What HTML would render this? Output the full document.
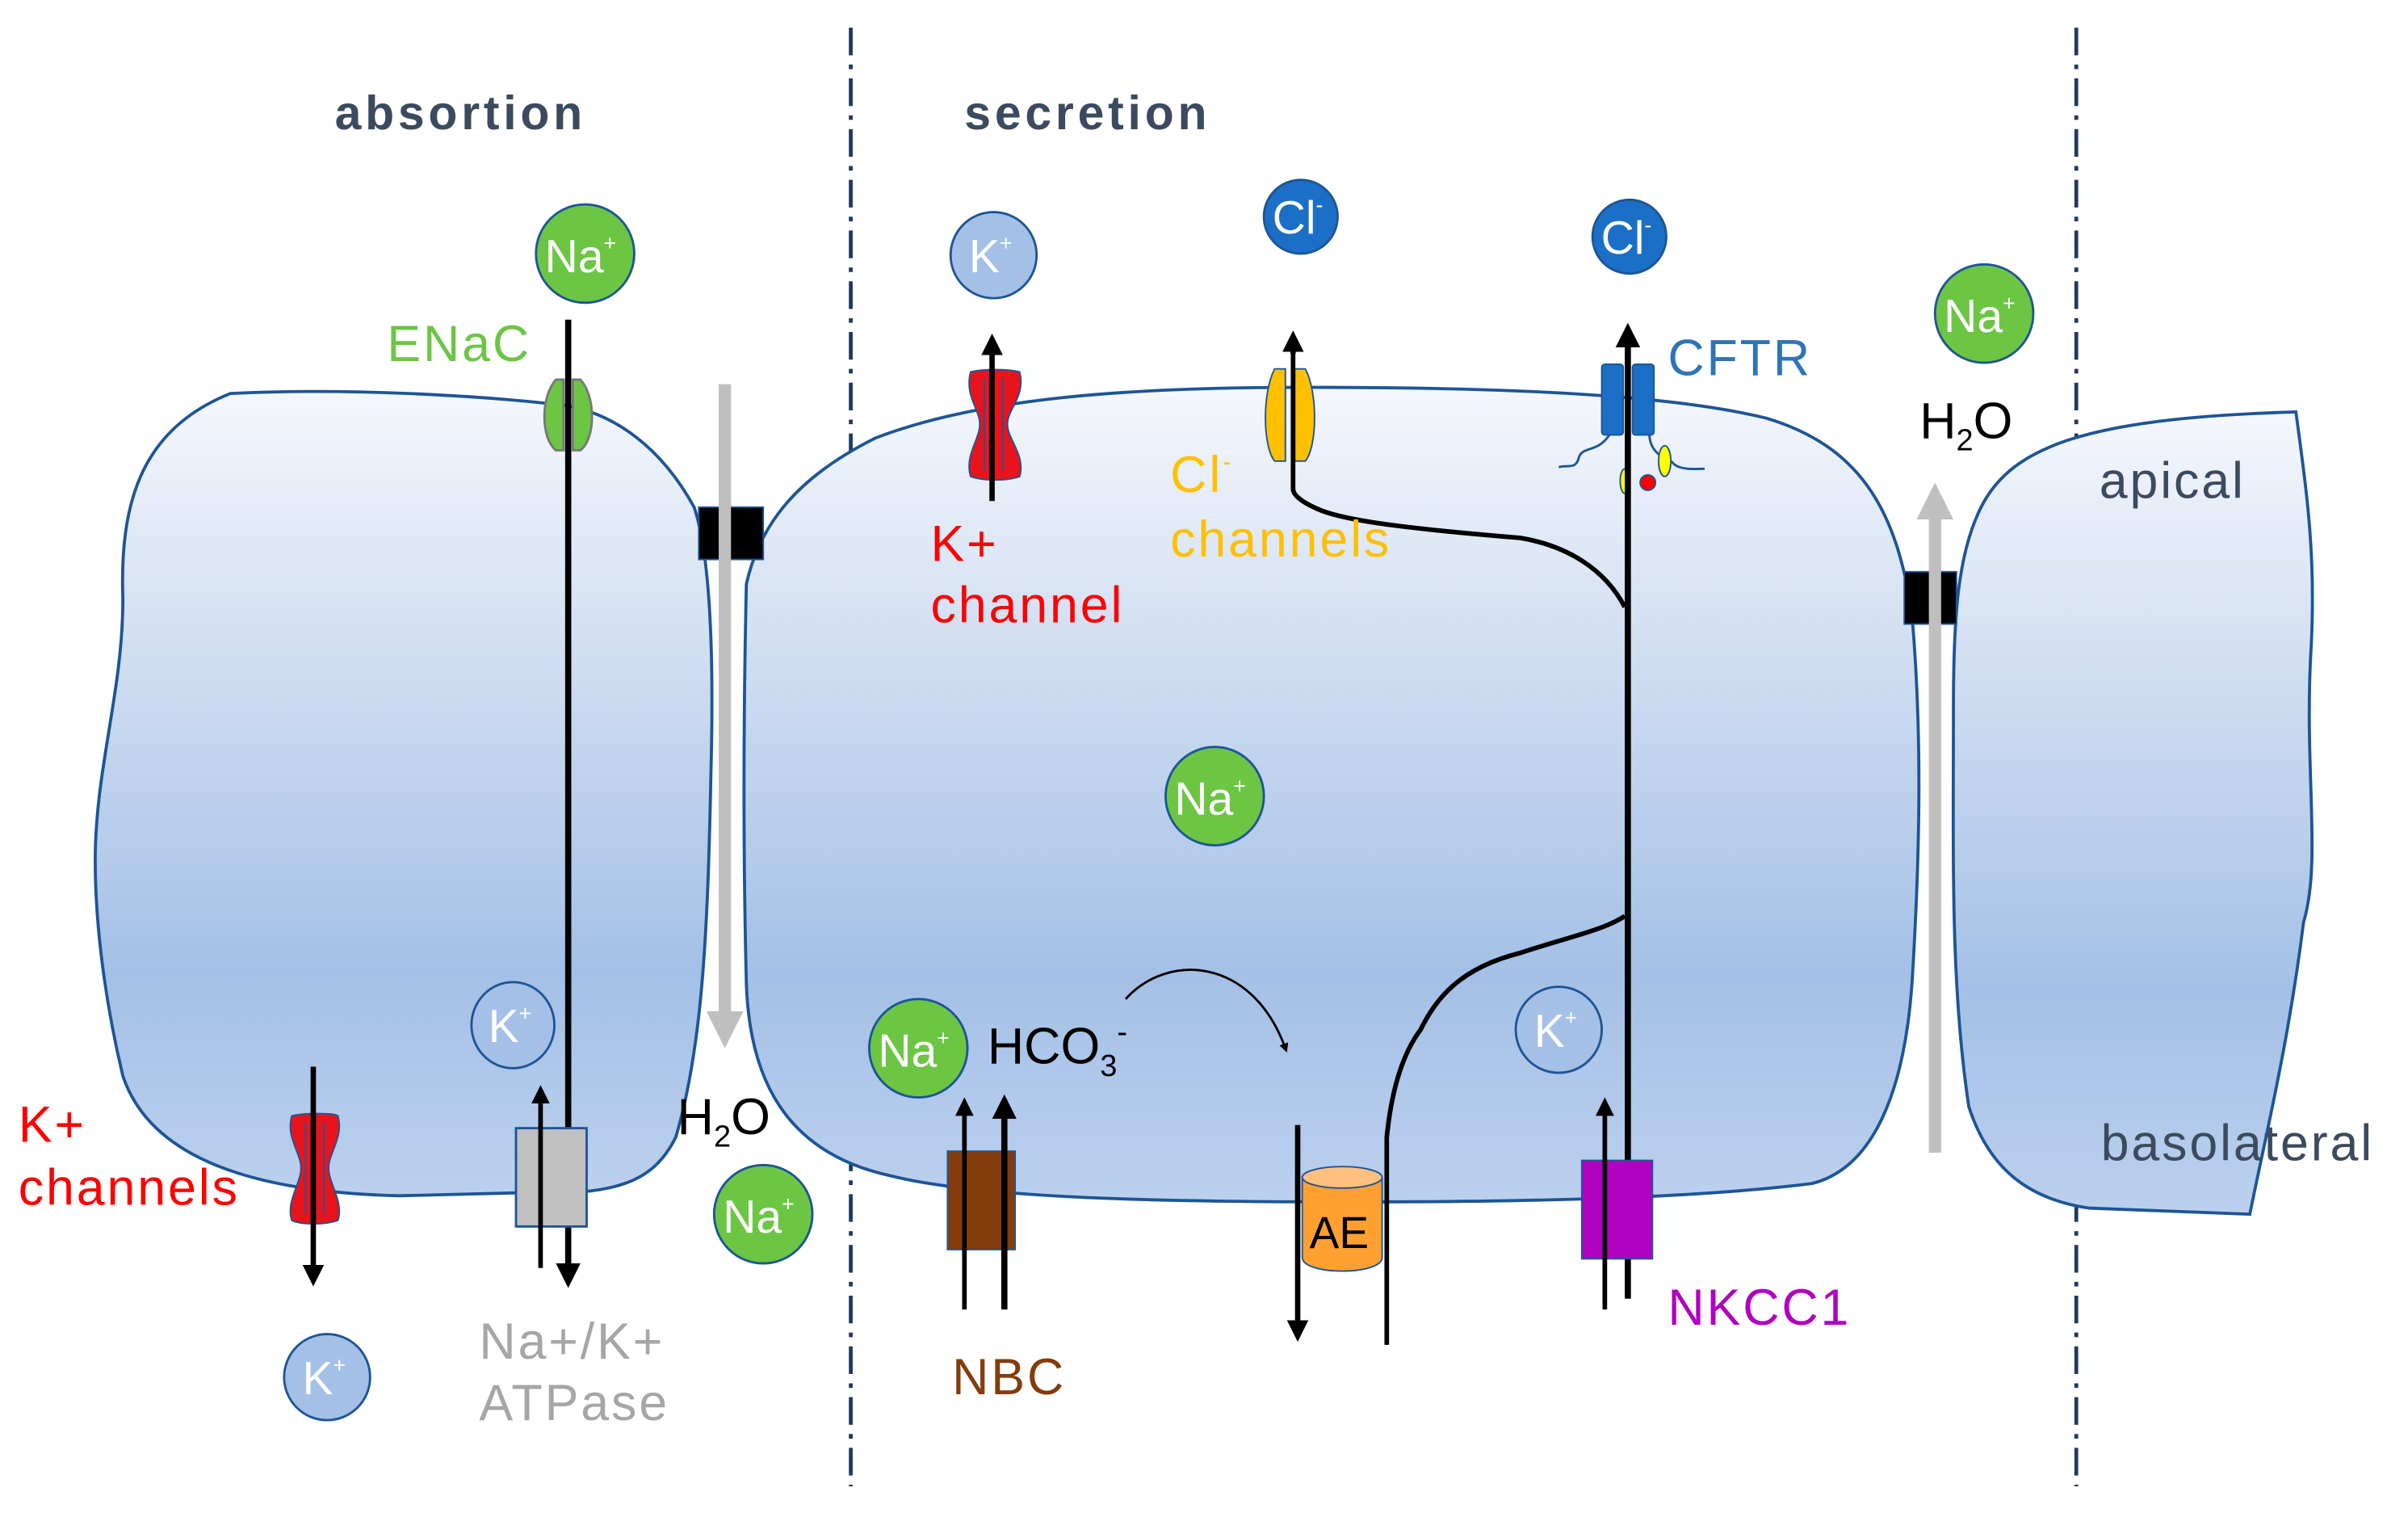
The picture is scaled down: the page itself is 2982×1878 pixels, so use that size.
<!DOCTYPE html>
<html><head><meta charset="utf-8"><style>
html,body{margin:0;padding:0;background:#fff;}
svg{display:block;}
text{font-family:"Liberation Sans",sans-serif;}
</style></head><body>
<svg width="2982" height="1878" viewBox="0 0 1568 987" preserveAspectRatio="none" xmlns="http://www.w3.org/2000/svg">
<defs>
<linearGradient id="g" x1="0" y1="0" x2="0" y2="1">
<stop offset="0" stop-color="#f5f7fc"/>
<stop offset="0.72" stop-color="#a4c0e6"/>
<stop offset="1" stop-color="#bcd0ee"/>
</linearGradient>
<marker id="ab" markerWidth="4" markerHeight="4" refX="2" refY="2" orient="auto" markerUnits="strokeWidth"><path d="M0,0 L4,2 L0,4z" fill="#000"/></marker>
<marker id="ag" markerWidth="3" markerHeight="3" refX="1.5" refY="1.5" orient="auto" markerUnits="strokeWidth"><path d="M0,0 L3,1.5 L0,3z" fill="#bfbfbf"/></marker>
</defs>
<rect width="1568" height="987" fill="#fff"/>
<g stroke="#1f3a5f" stroke-width="2.5" stroke-dasharray="18,6,3,6">
<line x1="554" y1="18" x2="554" y2="967"/>
<line x1="1352" y1="18" x2="1352" y2="967"/>
</g>
<g fill="url(#g)" stroke="#1d5596" stroke-width="2">
<path d="M150,256 C230,252 320,258 370,264 C400,270 430,290 452,330 C462,360 465,420 463,500 C461,600 458,680 440,740 C425,770 400,778 340,776 L260,778 C180,776 100,760 80,700 C68,650 62,600 62,560 C62,500 80,450 80,390 C78,330 90,280 150,256 Z"/>
<path d="M486,380 C495,340 520,310 570,285 C640,258 740,252 850,252 C960,252 1080,255 1150,272 C1210,290 1235,330 1245,400 C1252,480 1250,560 1245,640 C1240,710 1220,760 1180,770 C1100,780 990,782 880,782 C760,782 640,780 580,765 C510,750 488,700 486,640 C484,560 484,470 486,380 Z"/>
<path d="M1290,330 C1310,290 1360,272 1495,268 C1502,320 1508,360 1505,420 C1500,500 1512,560 1500,600 C1490,680 1475,740 1465,790 L1360,786 C1320,780 1295,760 1282,720 C1270,640 1272,560 1272,460 C1272,400 1275,360 1290,330 Z"/>
</g>
<rect x="455" y="330" width="42" height="34" fill="#000" stroke="#1d5596"/>
<rect x="1240" y="372" width="34" height="34" fill="#000" stroke="#1d5596"/>
<line x1="472" y1="250" x2="472" y2="670" stroke="#bfbfbf" stroke-width="8" marker-end="url(#ag)"/>
<line x1="1260" y1="750" x2="1260" y2="326" stroke="#bfbfbf" stroke-width="8" marker-end="url(#ag)"/>
<!-- ENaC -->
<path d="M362,247 C352,258 352,285 362,293 L367,293 L367,247Z" fill="#6cc644" stroke="#777" stroke-width="1.5"/>
<path d="M378,247 C388,258 388,285 378,293 L373,293 L373,247Z" fill="#6cc644" stroke="#777" stroke-width="1.5"/>
<line x1="370" y1="208" x2="370" y2="830" stroke="#000" stroke-width="4" marker-end="url(#ab)"/>
<rect x="336" y="734" width="46" height="64" fill="#c0c0c0" stroke="#1d5596" stroke-width="1.5"/>
<line x1="352" y1="825" x2="352" y2="712" stroke="#000" stroke-width="3" marker-end="url(#ab)"/>
<!-- left K channel hourglass -->
<path d="M190,726 C198,724 218,724 220,726 C224,740 214,750 214,760 C214,770 224,782 220,794 C212,797 196,797 190,794 C186,782 196,770 196,760 C196,750 186,740 190,726Z" fill="#e8141c" stroke="#1d5596"/>
<line x1="199" y1="730" x2="199" y2="790" stroke="#1d5596" stroke-width="1"/>
<line x1="211" y1="730" x2="211" y2="790" stroke="#1d5596" stroke-width="1"/>
<line x1="204" y1="694" x2="204" y2="830" stroke="#000" stroke-width="3.5" marker-end="url(#ab)"/>
<!-- K+ channel secretion -->
<path d="M632,242 C640,240 656,240 664,242 C668,258 656,266 656,276 C656,286 668,296 664,310 C656,313 640,313 632,310 C628,296 638,286 638,276 C638,266 628,258 632,242Z" fill="#e8141c" stroke="#1d5596"/>
<line x1="641" y1="246" x2="641" y2="306" stroke="#1d5596" stroke-width="1"/>
<line x1="653" y1="246" x2="653" y2="306" stroke="#1d5596" stroke-width="1"/>
<line x1="646" y1="326" x2="646" y2="224" stroke="#000" stroke-width="3.5" marker-end="url(#ab)"/>
<!-- Cl channel -->
<path d="M830,240 C822,255 822,290 830,300 L837,300 L837,240Z" fill="#ffc000" stroke="#1d5596"/>
<path d="M850,240 C858,255 858,290 850,300 L843,300 L843,240Z" fill="#ffc000" stroke="#1d5596"/>
<path d="M1058,395 C1045,370 1020,355 990,350 C930,345 880,340 860,332 C843,325 842,320 842,318 L842,222" fill="none" stroke="#000" stroke-width="3"/>
<path d="M842,230 L842,222" stroke="#000" stroke-width="3.5" marker-end="url(#ab)"/>
<!-- CFTR -->
<rect x="1043" y="237" width="14" height="46" rx="2" fill="#1c6fc6" stroke="#1d5596"/>
<rect x="1063" y="237" width="14" height="46" rx="2" fill="#1c6fc6" stroke="#1d5596"/>
<path d="M1048,283 C1040,295 1030,290 1028,298 C1026,306 1020,302 1015,304" fill="none" stroke="#1d5596" stroke-width="1.5"/>
<path d="M1074,283 C1075,298 1088,298 1090,302 C1095,306 1104,305 1110,305" fill="none" stroke="#1d5596" stroke-width="1.5"/>
<ellipse cx="1084" cy="300" rx="4" ry="10" fill="#ffff00" stroke="#1d5596"/>
<ellipse cx="1073" cy="314" rx="5" ry="5" fill="#f00" stroke="#1d5596"/>
<ellipse cx="1058" cy="313" rx="3" ry="8" fill="#ffff00" stroke="#1d5596"/>
<line x1="1060" y1="845" x2="1060" y2="218" stroke="#000" stroke-width="4" marker-end="url(#ab)"/>
<!-- AE -->
<path d="M1058,596 C1045,605 1020,610 990,620 C950,630 935,650 925,670 C910,690 905,720 903,740 L903,875" fill="none" stroke="#000" stroke-width="3"/>
<path d="M848,766 L848,818 C848,830 900,830 900,818 L900,766Z" fill="#ffa030" stroke="#1d5596"/>
<ellipse cx="874" cy="766" rx="26" ry="7" fill="#ffc080" stroke="#1d5596"/>
<text x="872" y="812" font-size="29" text-anchor="middle" fill="#000">AE</text>
<line x1="845" y1="732" x2="845" y2="866" stroke="#000" stroke-width="3.5" marker-end="url(#ab)"/>
<path d="M733,650 C760,620 815,622 837,682" fill="none" stroke="#000" stroke-width="1.5" marker-end="url(#ab)"/>
<rect x="617" y="749" width="44" height="64" fill="#843c0c" stroke="#1d5596"/>
<line x1="628" y1="852" x2="628" y2="720" stroke="#000" stroke-width="3" marker-end="url(#ab)"/>
<line x1="654" y1="852" x2="654" y2="720" stroke="#000" stroke-width="4" marker-end="url(#ab)"/>
<rect x="1030" y="755" width="46" height="64" fill="#b000c0" stroke="#1d5596"/>
<line x1="1045" y1="852" x2="1045" y2="720" stroke="#000" stroke-width="3" marker-end="url(#ab)"/>
<g stroke="#1d5596" stroke-width="1.5">
<circle cx="381" cy="165" r="32" fill="#6cc644"/>
<circle cx="791" cy="518" r="32" fill="#6cc644"/>
<circle cx="598" cy="682" r="32" fill="#6cc644"/>
<circle cx="497" cy="790" r="32" fill="#6cc644"/>
<circle cx="1292" cy="204" r="32" fill="#6cc644"/>
<ellipse cx="334" cy="667" rx="27" ry="28" fill="#a4c0e6"/>
<ellipse cx="213" cy="896" rx="28" ry="28" fill="#a4c0e6"/>
<ellipse cx="647" cy="166" rx="28" ry="28" fill="#a4c0e6"/>
<ellipse cx="1015" cy="670" rx="28" ry="28" fill="#a4c0e6"/>
<circle cx="847" cy="141" r="24" fill="#1c6fc6"/>
<circle cx="1061" cy="154" r="24" fill="#1c6fc6"/>
</g>
<g fill="#fff" font-size="30" text-anchor="middle">
<text x="378" y="177">Na<tspan font-size="14" dy="-14">+</tspan></text>
<text x="788" y="530">Na<tspan font-size="14" dy="-14">+</tspan></text>
<text x="595" y="694">Na<tspan font-size="14" dy="-14">+</tspan></text>
<text x="494" y="802">Na<tspan font-size="14" dy="-14">+</tspan></text>
<text x="1289" y="216">Na<tspan font-size="14" dy="-14">+</tspan></text>
<text x="332" y="678">K<tspan font-size="14" dy="-14">+</tspan></text>
<text x="211" y="907">K<tspan font-size="14" dy="-14">+</tspan></text>
<text x="645" y="177">K<tspan font-size="14" dy="-14">+</tspan></text>
<text x="1013" y="681">K<tspan font-size="14" dy="-14">+</tspan></text>
<text x="845" y="152">Cl<tspan font-size="14" dy="-14">-</tspan></text>
<text x="1059" y="165">Cl<tspan font-size="14" dy="-14">-</tspan></text>
</g>
<g font-size="33" letter-spacing="1.5">
<text x="218" y="84" font-weight="bold" fill="#3b4a5e" font-size="31" letter-spacing="2.5">absortion</text>
<text x="628" y="84" font-weight="bold" fill="#3b4a5e" font-size="31" letter-spacing="2.5">secretion</text>
<text x="252" y="235" fill="#6cc644">ENaC</text>
<text x="1086" y="244" fill="#2e75b6">CFTR</text>
<text x="606" y="365" fill="#f00">K+</text>
<text x="606" y="405" fill="#f00">channel</text>
<text x="762" y="320" fill="#ffc000">Cl<tspan font-size="16" dy="-14">-</tspan></text>
<text x="762" y="362" fill="#ffc000">channels</text>
<text x="12" y="743" fill="#f00">K+</text>
<text x="12" y="784" fill="#f00">channels</text>
<text x="312" y="884" fill="#a6a6a6">Na+/K+</text>
<text x="312" y="924" fill="#a6a6a6">ATPase</text>
<text x="620" y="907" fill="#843c0c">NBC</text>
<text x="1086" y="862" fill="#b000c0">NKCC1</text>
<text x="1367" y="324" fill="#3b4a5e">apical</text>
<text x="1368" y="755" fill="#3b4a5e">basolateral</text>
<text x="441" y="738" fill="#000" letter-spacing="0">H<tspan font-size="20" dy="8">2</tspan><tspan dy="-8">O</tspan></text>
<text x="1250" y="285" fill="#000" letter-spacing="0">H<tspan font-size="20" dy="8">2</tspan><tspan dy="-8">O</tspan></text>
<text x="643" y="692" fill="#000" letter-spacing="0">HCO<tspan font-size="20" dy="8">3</tspan><tspan font-size="20" dy="-22">-</tspan></text>
</g>
</svg>
</body></html>
